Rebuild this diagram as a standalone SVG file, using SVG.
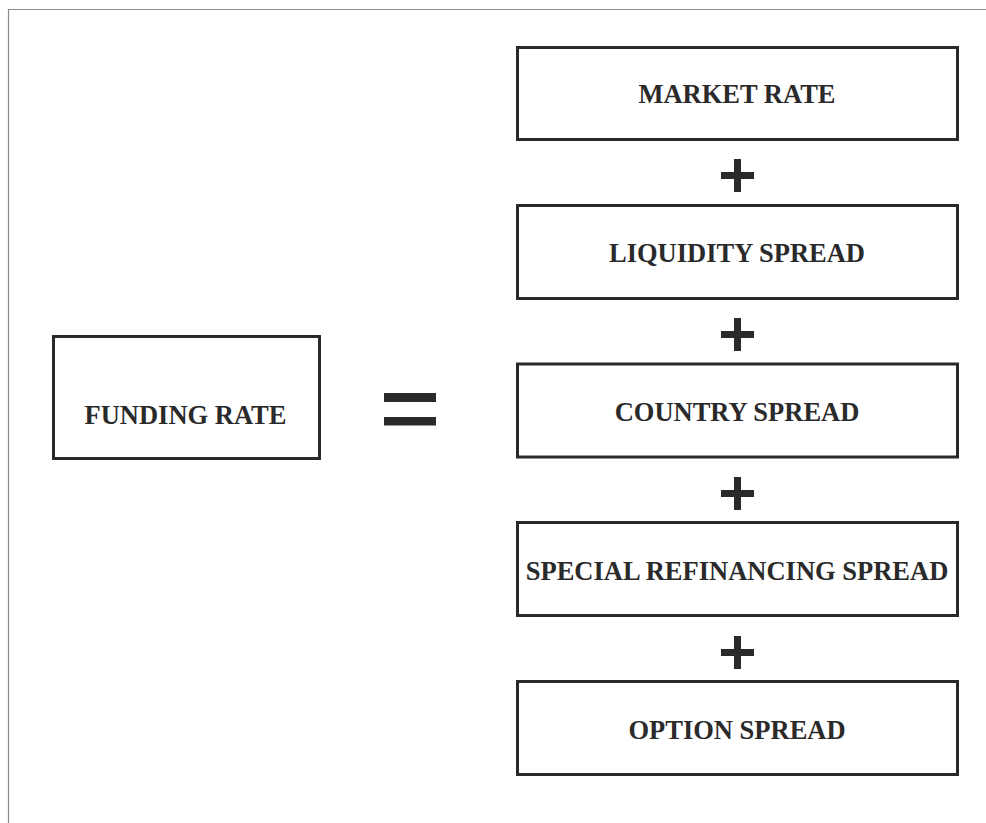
<svg xmlns="http://www.w3.org/2000/svg" width="986" height="823" viewBox="0 0 986 823">
<style>
.box{fill:#ffffff;stroke:#2a2a2a;stroke-width:3}
.lbl{font-family:"Liberation Serif","Times New Roman",serif;font-weight:bold;font-size:26.5px;fill:#2a2a2a;text-anchor:middle}
.op{fill:#2a2a2a}
.frame{fill:none;stroke:#8c8c8c;stroke-width:1.2}
</style>
<rect width="986" height="823" fill="#ffffff"/>
<path class="frame" d="M8.5,823 V9.5 H986"/>
<g id="funding-rate">
<rect class="box" x="53.5" y="336.5" width="266" height="122"/>
<text class="lbl" x="185.5" y="424">FUNDING RATE</text>
</g>
<g id="equals">
<rect class="op" x="384" y="393" width="52" height="9"/>
<rect class="op" x="384" y="417" width="52" height="8.5"/>
</g>
<g id="market-rate">
<rect class="box" x="517.5" y="47.5" width="440" height="92"/>
<text class="lbl" x="737" y="103">MARKET RATE</text>
</g>
<g id="liquidity-spread">
<rect class="box" x="517.5" y="205.5" width="440" height="93"/>
<text class="lbl" x="737" y="262">LIQUIDITY SPREAD</text>
</g>
<g id="country-spread">
<rect class="box" x="517.5" y="364" width="440" height="93"/>
<text class="lbl" x="737" y="421">COUNTRY SPREAD</text>
</g>
<g id="special-refinancing-spread">
<rect class="box" x="517.5" y="522.5" width="440" height="93"/>
<text class="lbl" x="737" y="580">SPECIAL REFINANCING SPREAD</text>
</g>
<g id="option-spread">
<rect class="box" x="517.5" y="681.5" width="440" height="93"/>
<text class="lbl" x="737" y="739">OPTION SPREAD</text>
</g>
<g id="connectors">
<g class="op">
<rect x="734" y="159" width="7" height="33"/><rect x="721" y="172" width="33" height="7"/>
<rect x="734" y="318" width="7" height="33"/><rect x="721" y="331" width="33" height="7"/>
<rect x="734" y="477" width="7" height="33"/><rect x="721" y="490" width="33" height="7"/>
<rect x="734" y="636" width="7" height="33"/><rect x="721" y="649" width="33" height="7"/>
</g>
</g>
</svg>
